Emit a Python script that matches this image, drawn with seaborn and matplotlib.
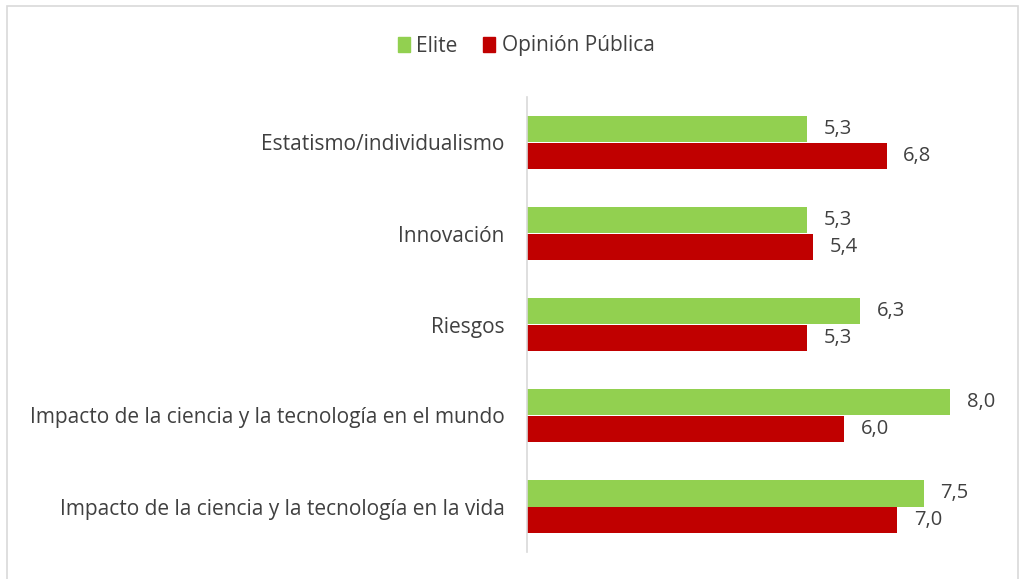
import pandas as pd
import matplotlib.pyplot as plt
import seaborn as sns
from matplotlib.patches import Rectangle

# --- data ---
categories = ['Estatismo/individualismo', 'Innovación', 'Riesgos',
              'Impacto de la ciencia y la tecnología en el mundo',
              'Impacto de la ciencia y la tecnología en la vida']
elite = [5.3, 5.3, 6.3, 8.0, 7.5]
opinion = [6.8, 5.4, 5.3, 6.0, 7.0]
series = ['Elite', 'Opinión Pública']
colors = ['#92D050', '#C00000']

df = pd.DataFrame({
    'Categoria': categories * 2,
    'Serie': [series[0]] * len(categories) + [series[1]] * len(categories),
    'Valor': elite + opinion,
})

sns.set_style('white')
plt.rcParams['font.family'] = ['Open Sans', 'DejaVu Sans']
text_color = '#404040'

fig = plt.figure(figsize=(10.2, 5.79), dpi=100)
ax = fig.add_axes([527 / 1020, 27 / 579, 476 / 1020, 455 / 579])

sns.barplot(data=df, y='Categoria', x='Valor', hue='Serie', order=categories,
            hue_order=series, palette=colors, orient='h', width=0.59,
            saturation=1, linewidth=0, ax=ax, legend=False)

for cont in ax.containers:
    ax.bar_label(cont, labels=[f"{b.get_width():.1f}".replace('.', ',') for b in cont],
                 padding=12, fontsize=14.5, color=text_color)

ax.set_xlim(0, 9)
ax.set_ylim(4.5, -0.5)
ax.set_xlabel('')
ax.set_ylabel('')
ax.set_xticks([])
ax.tick_params(axis='y', length=0, pad=16, labelsize=15, labelcolor=text_color)
for side in ['top', 'right', 'bottom']:
    ax.spines[side].set_visible(False)
ax.spines['left'].set_color('#D9D9D9')
ax.spines['left'].set_linewidth(1.2)

# legend on top, centred
handles = [Rectangle((0, 0), 1, 1, color=c) for c in colors]
fig.legend(handles, series, loc='center', bbox_to_anchor=(526 / 1020, 1 - 46 / 579),
           ncol=2, frameon=False, fontsize=15, handlelength=0.6, handleheight=0.75,
           handletextpad=0.3, columnspacing=1.2, labelcolor=text_color)

# chart frame
fig.patches.append(Rectangle((7 / 1020, -0.02), 1011 / 1020, 1 - 6 / 579 + 0.02,
                             transform=fig.transFigure, fill=False,
                             edgecolor='#D9D9D9', linewidth=1.2))

fig.savefig('out.png', dpi=100)
